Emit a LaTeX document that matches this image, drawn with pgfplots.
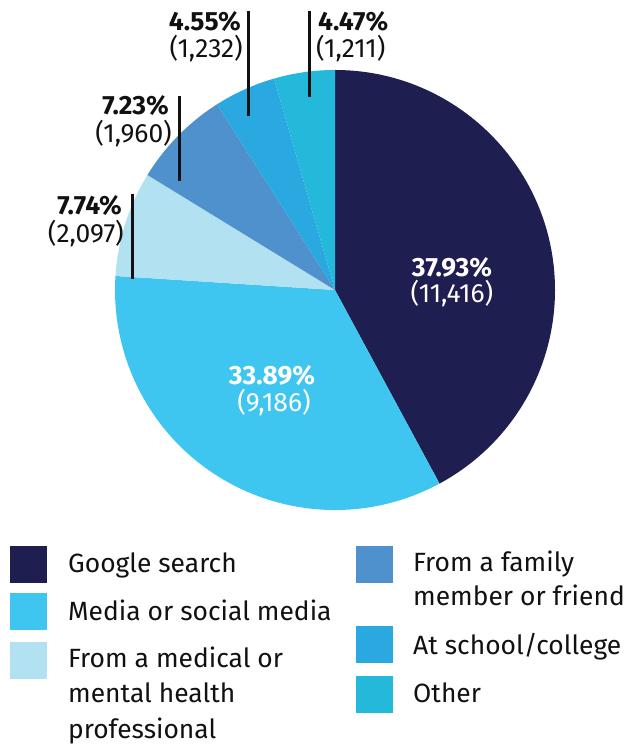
\documentclass[border=0pt]{standalone}
\usepackage{fontspec}
\setmainfont{Fira Sans}
\usepackage{pgfplots}
\pgfplotsset{compat=1.18}
\usepackage{pgfplotstable}
\definecolor{pc0}{HTML}{1E1F50}
\definecolor{pc1}{HTML}{3EC6F1}
\definecolor{pc2}{HTML}{B2E2F2}
\definecolor{pc3}{HTML}{4E91CD}
\definecolor{pc4}{HTML}{2AA8E0}
\definecolor{pc5}{HTML}{24B8DA}
\definecolor{txt}{HTML}{111111}
\pgfplotstableread{
count pct
11416 37.93
9186 33.89
2097 7.74
1960 7.23
1232 4.55
1211 4.47
}\piedata
\newcommand\lblfont{\fontsize{26.5}{30}\selectfont}
\newcommand\legfont{\fontsize{26.5}{32}\selectfont}
\begin{document}
\begin{tikzpicture}
\gdef\tot{0}
\foreach \i in {0,...,5}{\pgfplotstablegetelem{\i}{count}\of\piedata\xdef\tot{\fpeval{\tot+\pgfplotsretval}}}
\gdef\cum{0}
\foreach \i in {0,...,5}{%
  \pgfplotstablegetelem{\i}{count}\of\piedata
  \expandafter\xdef\csname s\i\endcsname{\fpeval{90-360*\cum/\tot}}%
  \xdef\cum{\fpeval{\cum+\pgfplotsretval}}%
  \expandafter\xdef\csname e\i\endcsname{\fpeval{90-360*\cum/\tot}}%
}
\useasboundingbox (0,0) rectangle (632bp,744bp);
\begin{axis}[hide axis, scale only axis, width=632bp, height=744bp,
  xmin=0, xmax=632, ymin=0, ymax=744, clip=false, at={(0,0)}, anchor=south west]
\pgfplotsinvokeforeach{0,...,5}{%
  \edef\tmp{\noexpand\fill[pc#1] (axis cs:335,454) -- ++(\csname s#1\endcsname:220bp) arc[start angle=\csname s#1\endcsname, end angle=\csname e#1\endcsname, radius=220bp] -- cycle;}\tmp
}
% inside labels
\node[anchor=base, text=white, font=\lblfont\bfseries, inner sep=0pt] at (axis cs:452,467) {37.93\%};
\node[anchor=base, text=white, font=\lblfont, inner sep=0pt] at (axis cs:452,441) {(11,416)};
\node[anchor=base, text=white, font=\lblfont\bfseries, inner sep=0pt] at (axis cs:272,359) {33.89\%};
\node[anchor=base, text=white, font=\lblfont, inner sep=0pt] at (axis cs:274,332) {(9,186)};
% outside labels
\node[anchor=base east, text=txt, font=\lblfont\bfseries, inner sep=0pt] at (axis cs:241,713) {4.55\%};
\node[anchor=base east, text=txt, font=\lblfont, inner sep=0pt] at (axis cs:243,686) {(1,232)};
\node[anchor=base west, text=txt, font=\lblfont\bfseries, inner sep=0pt] at (axis cs:318,713) {4.47\%};
\node[anchor=base west, text=txt, font=\lblfont, inner sep=0pt] at (axis cs:316,686) {(1,211)};
\node[anchor=base east, text=txt, font=\lblfont\bfseries, inner sep=0pt] at (axis cs:169,629) {7.23\%};
\node[anchor=base east, text=txt, font=\lblfont, inner sep=0pt] at (axis cs:172,601) {(1,960)};
\node[anchor=base east, text=txt, font=\lblfont\bfseries, inner sep=0pt] at (axis cs:122,529) {7.74\%};
\node[anchor=base east, text=txt, font=\lblfont, inner sep=0pt] at (axis cs:124,501) {(2,097)};
\draw[txt, line width=3bp] (axis cs:248,733) -- (axis cs:248,628);
\draw[txt, line width=3bp] (axis cs:309,733) -- (axis cs:309,647);
\draw[txt, line width=3bp] (axis cs:179,648) -- (axis cs:179,563);
\draw[txt, line width=3bp] (axis cs:132,550) -- (axis cs:132,465);
% legend
\fill[pc0] (axis cs:10,161) rectangle (axis cs:47,198);
\fill[pc1] (axis cs:10,114) rectangle (axis cs:47,151);
\fill[pc2] (axis cs:10,65) rectangle (axis cs:47,102);
\fill[pc3] (axis cs:356,161) rectangle (axis cs:393,198);
\fill[pc4] (axis cs:356,81) rectangle (axis cs:393,118);
\fill[pc5] (axis cs:356,31) rectangle (axis cs:393,68);
\node[anchor=base west, text=txt, font=\legfont, inner sep=0pt] at (axis cs:68,171) {Google search};
\node[anchor=base west, text=txt, font=\legfont, inner sep=0pt] at (axis cs:68,123) {Media or social media};
\node[anchor=base west, text=txt, font=\legfont, inner sep=0pt] at (axis cs:68,76) {From a medical or};
\node[anchor=base west, text=txt, font=\legfont, inner sep=0pt] at (axis cs:68,41) {mental health};
\node[anchor=base west, text=txt, font=\legfont, inner sep=0pt] at (axis cs:68,6) {professional};
\node[anchor=base west, text=txt, font=\legfont, inner sep=0pt] at (axis cs:413,172) {From a family};
\node[anchor=base west, text=txt, font=\legfont, inner sep=0pt] at (axis cs:413,138) {member or friend};
\node[anchor=base west, text=txt, font=\legfont, inner sep=0pt] at (axis cs:413,89) {At school/college};
\node[anchor=base west, text=txt, font=\legfont, inner sep=0pt] at (axis cs:413,41) {Other};
\end{axis}
\end{tikzpicture}
\end{document}
